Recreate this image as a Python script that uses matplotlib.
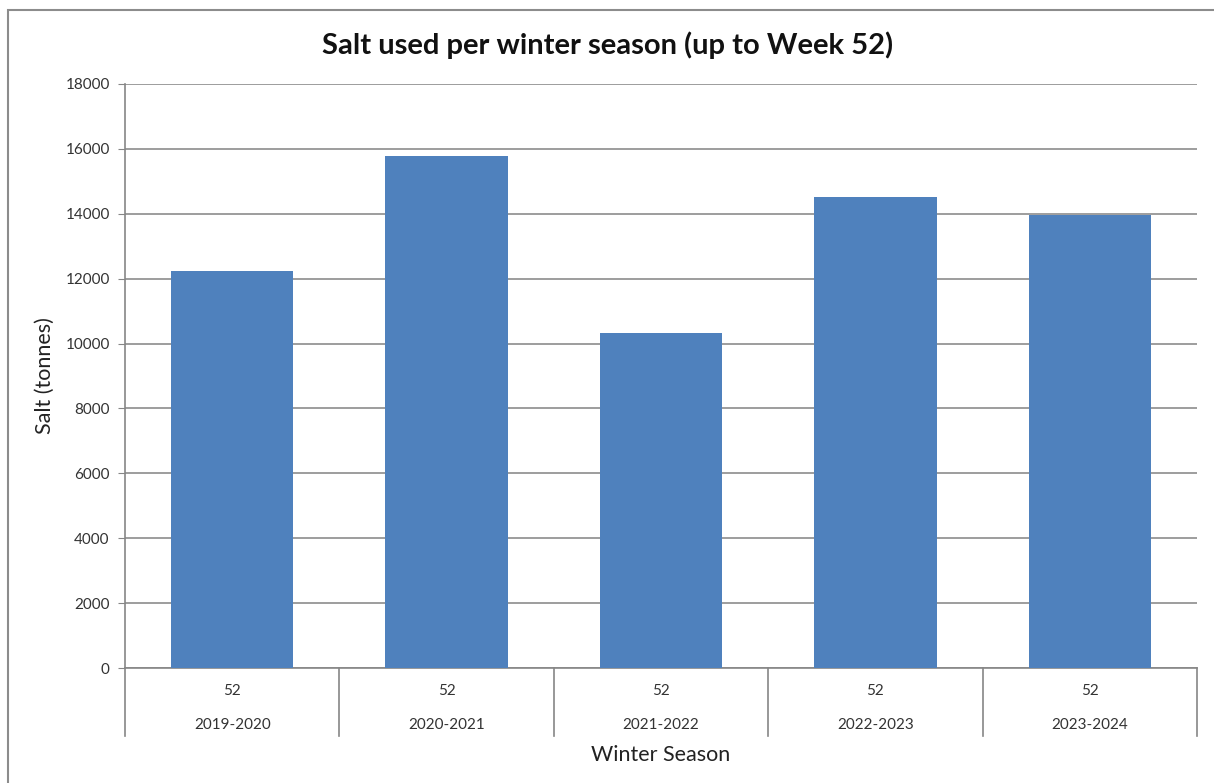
import matplotlib.pyplot as plt
from matplotlib.patches import Rectangle

# Salt usage per winter season, all measured up to week 52
seasons = ["2019-2020", "2020-2021", "2021-2022", "2022-2023", "2023-2024"]
weeks = ["52", "52", "52", "52", "52"]
salt_tonnes = [12225, 15780, 10320, 14510, 13970]

plt.rcParams['font.family'] = ['Lato', 'DejaVu Sans']

fig = plt.figure(figsize=(12.14, 7.83), dpi=100)
ax = fig.add_axes([125 / 1214, 1 - 668 / 783, (1197 - 125) / 1214, (668 - 84) / 783])

x = list(range(len(seasons)))
ax.bar(x, salt_tonnes, width=0.57, color='#4F81BD', zorder=3)

ax.set_xlim(-0.5, len(seasons) - 0.5)
ax.set_ylim(0, 18000)
ax.set_yticks(range(0, 18001, 2000))
ax.tick_params(axis='y', direction='out', length=5, color='#868686',
               labelsize=11, labelcolor='#333333', pad=6)
ax.set_xticks([])
ax.grid(axis='y', color='#8c8c8c', linewidth=1.2, zorder=0)

for side in ['top', 'right']:
    ax.spines[side].set_visible(False)
for side in ['left', 'bottom']:
    ax.spines[side].set_color('#868686')
    ax.spines[side].set_linewidth(1.2)

# two-level category axis below the plot
trans = ax.get_xaxis_transform()
box_depth = -(736 - 668) / (668 - 84)
for i in range(len(seasons) + 1):
    ax.plot([i - 0.5, i - 0.5], [0, box_depth], transform=trans,
            color='#868686', linewidth=1.2, clip_on=False)
for i, (s, w) in enumerate(zip(seasons, weeks)):
    ax.text(i, -(691 - 668) / 584, w, transform=trans, ha='center', va='center',
            fontsize=11, color='#333333')
    ax.text(i, -(725 - 668) / 584, s, transform=trans, ha='center', va='center',
            fontsize=11, color='#333333')

fig.text(661 / 1214, 1 - 755 / 783, "Winter Season", ha='center', va='center',
         fontsize=15.5, color='#222222')
fig.text(45 / 1214, 1 - 376 / 783, "Salt (tonnes)", ha='center', va='center',
         rotation=90, fontsize=15.5, color='#222222')
fig.text(608 / 1214, 1 - 45 / 783, "Salt used per winter season (up to Week 52)",
         ha='center', va='center', fontsize=21, fontweight='bold', color='#111111')

# chart area frame
fig.patches.append(Rectangle((8 / 1214, -0.1), 1.2, 1 - 10 / 783 + 0.1,
                             transform=fig.transFigure, fill=False,
                             edgecolor='#8c8c8c', linewidth=1.5))

fig.savefig("out.png", dpi=100)
